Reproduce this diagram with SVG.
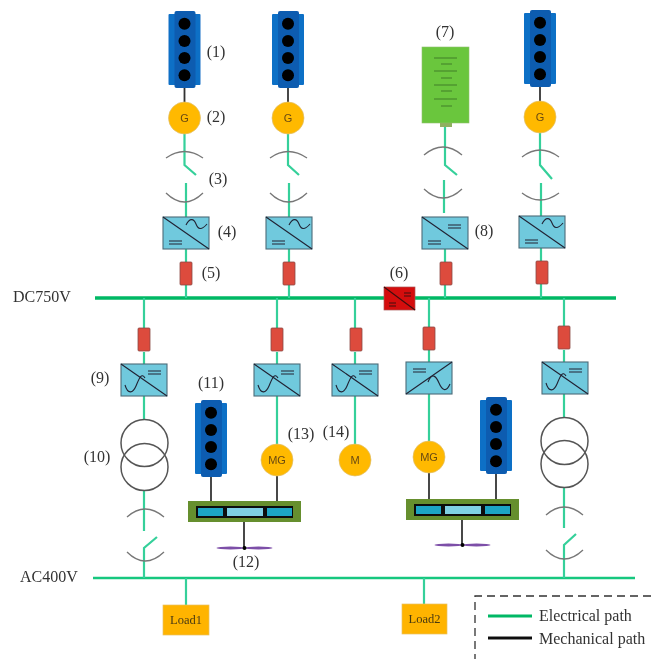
<svg xmlns="http://www.w3.org/2000/svg" xmlns:xlink="http://www.w3.org/1999/xlink" width="651" height="659" viewBox="0 0 651 659">
<style>
text{font-family:"Liberation Serif","Times New Roman",serif;font-size:16px;fill:#333}
.c{text-anchor:middle}
.e{fill:none;stroke:#35d09a;stroke-width:2.2}
.b{fill:none;stroke:#00b865;stroke-linecap:butt}
.m{fill:none;stroke:#333;stroke-width:1.8}
.a{fill:none;stroke:#777;stroke-width:1.3}
.ct{fill:#6fc9dd;stroke:#4c6b78;stroke-width:1.1}
.d{fill:none;stroke:#223;stroke-width:1.1}
.f{fill:#dd4b3e;stroke:#8a4a44;stroke-width:.8}
.gc{fill:#ffb900;stroke:#e0c070;stroke-width:.7}
.gt{font-family:"Liberation Sans",Arial,sans-serif;font-size:11px;fill:#6a4a10}
.tr{fill:none;stroke:#555;stroke-width:1.5}
.lo{fill:#ffb400;stroke:#e8c060;stroke-width:.7}
</style>
<defs>
<filter id="soft" x="0" y="0" width="651" height="659" filterUnits="userSpaceOnUse"><feGaussianBlur stdDeviation="0.7"/></filter>
<g id="engine">
<rect x="-16" y="3" width="32" height="71" rx="1" fill="#0f6fc6"/>
<rect x="-10" y="0" width="21" height="77" rx="2" fill="#0a5cb0"/>
<circle cx="0" cy="12.700" r="6" fill="#000"/><circle cx="0" cy="30" r="6" fill="#000"/><circle cx="0" cy="47" r="6" fill="#000"/><circle cx="0" cy="64.300" r="6" fill="#000"/>
</g>
<g id="acdc">
<rect class="ct" x="0" y="0" width="46" height="32"/>
<path class="d" d="M0 0L46 32M6 24H19M6 27H19"/>
<path class="d" d="M23 8C27 0 31 2 33 7S38 14 44 7"/>
</g>
<g id="dcdc">
<rect class="ct" x="0" y="0" width="46" height="32"/>
<path class="d" d="M0 0L46 32M6 24H19M6 27H19M26 8H39M26 11H39"/>
</g>
<g id="inv">
<rect class="ct" x="0" y="0" width="46" height="32"/>
<path class="d" d="M0 0L46 32M27 7H40M27 10H40"/>
<path class="d" d="M4 21C7 31 12 29 15 22S20 8 24 14"/>
</g>
<g id="invr">
<rect class="ct" x="0" y="0" width="46" height="32"/>
<path class="d" d="M0 32L46 0M7 7H20M7 10H20"/>
<path class="d" d="M22 20C26 10 30 14 33 21S40 31 44 22"/>
</g>
<rect id="fuse" class="f" x="0" y="0" width="12" height="23" rx="1"/>
<g id="gearbox">
<rect x="0" y="0" width="113" height="21" fill="#668f2d"/>
<rect x="8" y="5" width="97" height="12" fill="#0c0c0c"/>
<rect x="10" y="7" width="25" height="8" fill="#1fa5c4"/>
<rect x="39" y="7" width="36" height="8" fill="#7fd0e4"/>
<rect x="79" y="7" width="25" height="8" fill="#1fa5c4"/>
</g>
<g id="prop">
<ellipse cx="-14" cy="0" rx="14" ry="1.500" fill="#7d4fa8"/>
<ellipse cx="14" cy="0" rx="14" ry="1.500" fill="#7d4fa8"/>
<circle r="2" fill="#000"/>
</g>
</defs>
<g filter="url(#soft)">
<g id="connectors">
<path class="b" stroke-width="3.4" d="M95 298H616"/>
<path class="b" stroke-width="2.4" d="M93 578H635" style="stroke:#18c77f"/>
<path class="m" d="M184.500 88V102M288 88V102M540 87V101"/>
<path class="e" d="M184.500 134V165L196 175M186 183V217M186 249V262M186 285V298"/>
<path class="e" d="M288 134V165L299 175M289 183V217M289 249V262M289 285V298"/>
<path class="e" d="M445 127V165L457 175M444 180V213M445 249V262M445 285V298"/>
<path class="e" d="M540 133V165L552 179M541 183V217M541 248V261M541 284V298"/>
<path class="e" d="M144 298V328M144 352V364M144 396V420M144 490V531M144 578V548L157 537"/>
<path class="e" d="M277 298V328M277 352V364M277 396V444"/>
<path class="e" d="M355 298V328M355 352V364M355 396V444"/>
<path class="e" d="M429 298V327M429 350V362M429 394V441"/>
<path class="e" d="M564 298V326M564 350V362M564 394V418M564 487V528M564 578V545L576 534"/>
<path class="e" d="M186 578V605M424 578V604"/>
<path class="m" d="M211 476V506M277 476V506M244 518V547M429 473V504M496 473V504M462 516V545"/>
<path class="a" d="M166 158Q184.500 145 203 158M166 193Q184.500 211 203 193"/>
<path class="a" d="M270 158Q288 145 307 158M270 193Q288 211 307 193"/>
<path class="a" d="M424 155Q443 139 462 155M424 189Q443 207 462 189"/>
<path class="a" d="M522 157Q540 143 559 157M522 193Q540 207 559 193"/>
<path class="a" d="M127 517Q145 501 164 517M127 552Q145 570 164 552"/>
<path class="a" d="M546 515Q564 499 583 515M546 550Q564 568 583 550"/>
</g>
<g id="n1"><use href="#engine" x="184.500" y="11"/></g>
<g id="n2"><use href="#engine" x="288" y="11"/></g>
<g id="n3"><use href="#engine" x="540" y="10"/></g>
<g id="g1"><circle class="gc" cx="184.500" cy="118" r="16"/><text class="gt c" x="184.500" y="122">G</text></g>
<g id="g2"><circle class="gc" cx="288" cy="118" r="16"/><text class="gt c" x="288" y="122">G</text></g>
<g id="g3"><circle class="gc" cx="540" cy="117" r="16"/><text class="gt c" x="540" y="121">G</text></g>
<g id="battery">
<rect x="422" y="47" width="47" height="76" fill="#6ac63c" stroke="#8fbf70" stroke-width=".6"/>
<rect x="440" y="123" width="12" height="4" fill="#8fb060"/>
<path d="M434 58H457M441 64H452M434 71H457M441 78H452M434 85H457M441 91H452M434 99H457M441 106H452" stroke="#3f7f2a" stroke-width="1.100" fill="none"/>
</g>
<g id="c1"><use href="#acdc" x="163" y="217"/></g>
<g id="c2"><use href="#acdc" x="266" y="217"/></g>
<g id="c3"><use href="#dcdc" x="422" y="217"/></g>
<g id="c4"><use href="#acdc" x="519" y="216"/></g>
<g id="f1"><use href="#fuse" x="180" y="262"/></g>
<g id="f2"><use href="#fuse" x="283" y="262"/></g>
<g id="f3"><use href="#fuse" x="440" y="262"/></g>
<g id="f4"><use href="#fuse" x="536" y="261"/></g>
<g id="dc"><rect x="384" y="287" width="31" height="23" fill="#d40d0d" stroke="#a55" stroke-width=".7"/><path d="M384 287L415 310M404 293H411M404 296H411M389 303H396M389 306H396" stroke="#401010" stroke-width="1.200" fill="none"/></g>
<g id="f5"><use href="#fuse" x="138" y="328"/></g>
<g id="f6"><use href="#fuse" x="271" y="328"/></g>
<g id="f7"><use href="#fuse" x="350" y="328"/></g>
<g id="f8"><use href="#fuse" x="423" y="327"/></g>
<g id="f9"><use href="#fuse" x="558" y="326"/></g>
<g id="c5"><use href="#inv" x="121" y="364"/></g>
<g id="c6"><use href="#inv" x="254" y="364"/></g>
<g id="c7"><use href="#inv" x="332" y="364"/></g>
<g id="c8"><use href="#invr" x="406" y="362"/></g>
<g id="c9"><use href="#inv" x="542" y="362"/></g>
<g id="t1"><circle class="tr" cx="144.500" cy="443" r="23.500"/><circle class="tr" cx="144.500" cy="467" r="23.500"/></g>
<g id="t2"><circle class="tr" cx="564.500" cy="441" r="23.500"/><circle class="tr" cx="564.500" cy="464" r="23.500"/></g>
<g id="n4"><use href="#engine" x="211" y="400"/></g>
<g id="n5"><use href="#engine" x="496" y="397"/></g>
<g id="mg1"><circle class="gc" cx="277" cy="460" r="16"/><text class="gt c" x="277" y="464">MG</text></g>
<g id="m1"><circle class="gc" cx="355" cy="460" r="16"/><text class="gt c" x="355" y="464">M</text></g>
<g id="mg2"><circle class="gc" cx="429" cy="457" r="16"/><text class="gt c" x="429" y="461">MG</text></g>
<g id="gb1"><use href="#gearbox" x="188" y="501"/></g>
<g id="gb2"><use href="#gearbox" x="406" y="499"/></g>
<g id="p1"><use href="#prop" x="244.500" y="548"/></g>
<g id="p2"><use href="#prop" x="462.500" y="545"/></g>
<g id="load1"><rect class="lo" x="163" y="605" width="46" height="30"/><text class="c" x="186" y="624" style="font-size:12.500px;fill:#4a3a10">Load1</text></g>
<g id="load2"><rect class="lo" x="402" y="604" width="45" height="30"/><text class="c" x="424.500" y="623" style="font-size:12.500px;fill:#4a3a10">Load2</text></g>
<g id="legend">
<path d="M651 596H475V659" fill="none" stroke="#333" stroke-width="1.300" stroke-dasharray="8 5"/>
<path d="M488 616H532" stroke="#00b865" stroke-width="2.800"/>
<path d="M488 638H532" stroke="#111" stroke-width="2.800"/>
<text x="539" y="621">Electrical path</text>
<text x="539" y="644">Mechanical path</text>
</g>
<g id="labels">
<text x="13" y="302">DC750V</text>
<text x="20" y="582">AC400V</text>
<text class="c" x="216" y="57">(1)</text>
<text class="c" x="216" y="122">(2)</text>
<text class="c" x="218" y="184">(3)</text>
<text class="c" x="227" y="237">(4)</text>
<text class="c" x="211" y="278">(5)</text>
<text class="c" x="399" y="278">(6)</text>
<text class="c" x="445" y="37">(7)</text>
<text class="c" x="484" y="236">(8)</text>
<text class="c" x="100" y="383">(9)</text>
<text class="c" x="97" y="462">(10)</text>
<text class="c" x="211" y="388">(11)</text>
<text class="c" x="246" y="567">(12)</text>
<text class="c" x="301" y="439">(13)</text>
<text class="c" x="336" y="437">(14)</text>
</g>
</g>
</svg>
